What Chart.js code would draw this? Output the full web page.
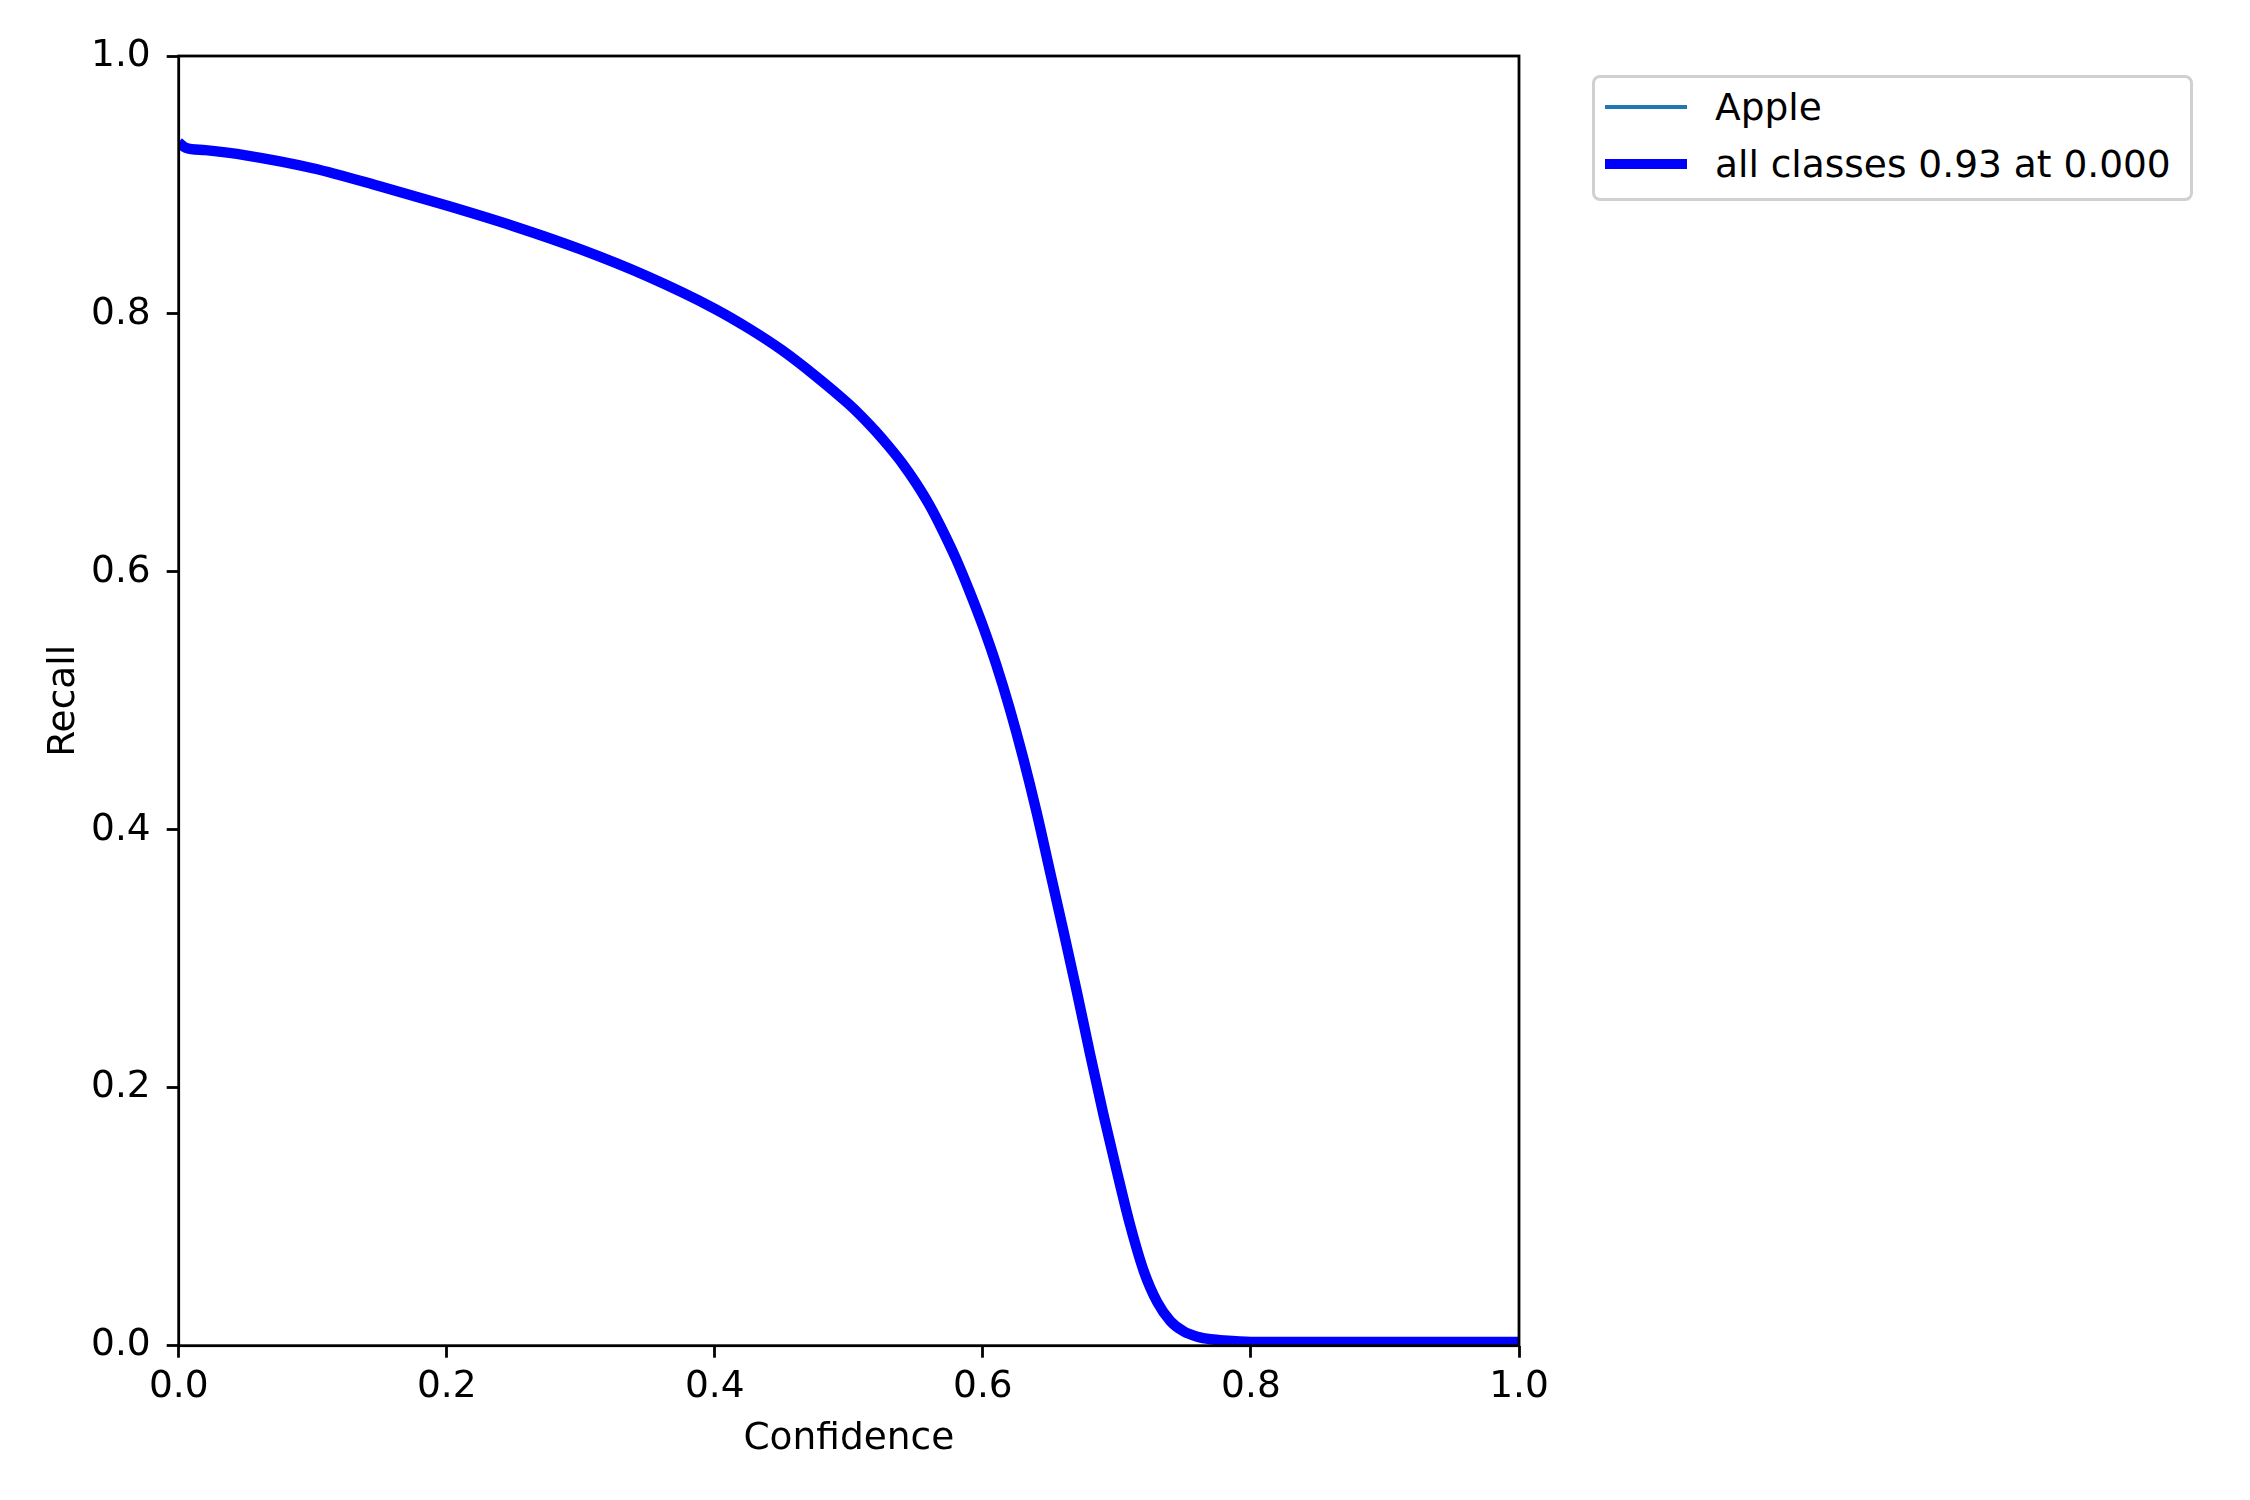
<!DOCTYPE html>
<html lang="en">
<head>
  <meta charset="UTF-8">
  <title>Recall-Confidence Curve</title>
  <script src="https://cdn.jsdelivr.net/npm/chart.js"></script>
  <style>
    html, body { margin: 0; padding: 0; background: #fff; }
    #wrap { position: relative; width: 2250px; height: 1500px; }
    #curve { position: absolute; left: 0; top: 0; }
    #legend {
      position: absolute; left: 1592px; top: 75px; width: 601px; height: 126px;
      box-sizing: border-box; border: 3px solid #d0d0d0; border-radius: 8px; background: #fff;
      font-family: "DejaVu Sans", sans-serif; font-size: 37.5px; color: #000;
    }
    .row { position: absolute; left: 0; right: 0; height: 50px; }
    .swatch { position: absolute; left: 10px; width: 82px; }
    .label { position: absolute; left: 120px; top: 0; line-height: 50px; white-space: nowrap; }
  </style>
</head>
<body>
  <div id="wrap">
    <canvas id="curve" width="2250" height="1500"></canvas>
    <div id="legend"></div>
  </div>

  <script>
    // recall vs confidence
    const confidence = [0, 0.005, 0.02, 0.05, 0.1, 0.15, 0.2, 0.25, 0.3, 0.35, 0.4, 0.425, 0.45, 0.475, 0.5,
      0.51, 0.52, 0.53, 0.54, 0.55, 0.56, 0.57, 0.58, 0.59, 0.6, 0.61, 0.62, 0.63, 0.64, 0.65, 0.66,
      0.67, 0.68, 0.69, 0.7, 0.71, 0.72, 0.73, 0.74, 0.75, 0.76, 0.77, 0.78, 0.8, 0.9, 1.0];
    const allRecall = [0.933, 0.929, 0.927, 0.923, 0.913, 0.899, 0.884, 0.868, 0.850, 0.829, 0.804, 0.789, 0.772, 0.752, 0.730,
      0.720, 0.709, 0.697, 0.684, 0.669, 0.652, 0.632, 0.610, 0.585, 0.558, 0.528, 0.494, 0.456, 0.414, 0.368, 0.322,
      0.275, 0.226, 0.179, 0.135, 0.093, 0.058, 0.034, 0.019, 0.011, 0.007, 0.005, 0.004, 0.003, 0.003, 0.003];
    // only one class, so its curve is the same as the mean
    const appleRecall = allRecall;

    const tickValues = [0, 0.2, 0.4, 0.6, 0.8, 1.0];
    const tickLabels = ['0.0', '0.2', '0.4', '0.6', '0.8', '1.0'];

    const font = { family: 'DejaVu Sans', size: 37.5 };
    const toPoints = ys => confidence.map((x, i) => ({ x: x, y: ys[i] }));

    function setTicks(scale) {
      scale.ticks = tickValues.map(v => ({ value: v }));
    }

    const axisFrame = {
      id: 'axisFrame',
      afterDatasetsDraw(chart) {
        const a = chart.chartArea;
        const ctx = chart.ctx;
        ctx.save();
        ctx.strokeStyle = '#000';
        ctx.lineWidth = 2.8;
        ctx.strokeRect(a.left, a.top, a.right - a.left, a.bottom - a.top);
        ctx.restore();
      }
    };

    const chart = new Chart(document.getElementById('curve'), {
      type: 'line',
      data: {
        datasets: [
          {
            label: 'all classes 0.93 at 0.000',
            data: toPoints(allRecall),
            borderColor: '#0000ff',
            borderWidth: 10.4,
            order: 0
          },
          {
            label: 'Apple',
            data: toPoints(appleRecall),
            borderColor: '#1f77b4',
            borderWidth: 3.5,
            order: 1
          }
        ]
      },
      options: {
        responsive: false,
        animation: false,
        devicePixelRatio: 1,
        layout: { padding: { left: 0, top: 56, right: 731, bottom: 0 } },
        elements: {
          point: { radius: 0 },
          line: { cubicInterpolationMode: 'monotone', fill: false, borderCapStyle: 'butt' }
        },
        plugins: { legend: { display: false }, tooltip: { enabled: false } },
        scales: {
          x: {
            type: 'linear', min: 0, max: 1,
            afterBuildTicks: setTicks,
            afterFit: s => { s.height = 154.3; },
            border: { display: false },
            grid: { drawOnChartArea: false, tickLength: 12, tickWidth: 2.8, tickColor: '#000' },
            ticks: { color: '#000', font: font, padding: 7.5, maxRotation: 0,
              callback: (v, i) => tickLabels[i] },
            title: { display: true, text: 'Confidence', color: '#000', font: font, padding: { top: 0, bottom: 38 } }
          },
          y: {
            type: 'linear', min: 0, max: 1,
            afterBuildTicks: setTicks,
            afterFit: s => { s.width = 178.7; },
            border: { display: false },
            grid: { drawOnChartArea: false, tickLength: 12, tickWidth: 2.8, tickColor: '#000' },
            ticks: { color: '#000', font: font, padding: 16,
              callback: (v, i) => tickLabels[i] },
            title: { display: true, text: 'Recall', color: '#000', font: font, padding: { top: 42, bottom: 0 } }
          }
        }
      },
      plugins: [axisFrame]
    });

    // html legend built from the chart's datasets
    const legend = document.getElementById('legend');
    const rowCenters = [29, 86];
    chart.data.datasets.slice().reverse().forEach((ds, i) => {
      const row = document.createElement('div');
      row.className = 'row';
      row.style.top = (rowCenters[i] - 25) + 'px';
      const sw = document.createElement('div');
      sw.className = 'swatch';
      sw.style.height = ds.borderWidth + 'px';
      sw.style.top = (25 - ds.borderWidth / 2) + 'px';
      sw.style.background = ds.borderColor;
      const txt = document.createElement('span');
      txt.className = 'label';
      txt.textContent = ds.label;
      row.appendChild(sw);
      row.appendChild(txt);
      legend.appendChild(row);
    });
  </script>
</body>
</html>
